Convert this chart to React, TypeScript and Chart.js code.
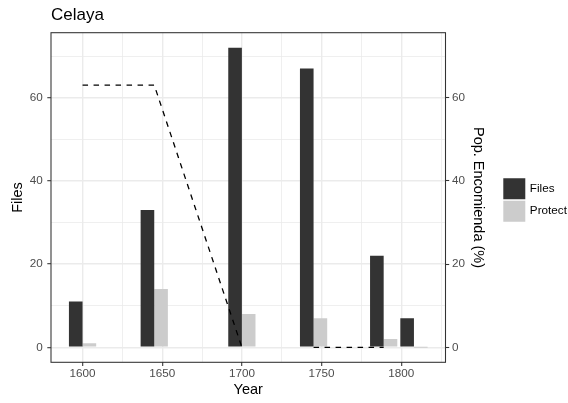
import React, { useEffect, useRef } from 'react';
import { Chart, registerables } from 'chart.js';

Chart.register(...registerables);

// ---- data ----
const barYears = [1600, 1645, 1700, 1745, 1789, 1808];
const filesValues = [11, 33, 72, 67, 22, 7];
const protectValues = [1, 14, 8, 7, 2, 0];
const popYears = [1600, 1645, 1700, 1722, 1745, 1789];
const popValues: (number | null)[] = [63, 63, 0, null, 0, 0];

const xMajorTicks = [1600, 1650, 1700, 1750, 1800];
const xMinorTicks = [1625, 1675, 1725, 1775, 1825];
const yMajorTicks = [0, 20, 40, 60];
const yMinorTicks = [10, 30, 50, 70];

// ---- scale ranges (ggplot-like 5% expansion) ----
const dataMax = Math.max(...filesValues, ...protectValues);
const yMin = -0.05 * dataMax;
const yMax = dataMax * 1.05;
const minGap = Math.min(...barYears.slice(1).map((v, i) => v - barYears[i]));
const halfDodge = (0.9 * minGap) / 2;
const xLo = barYears[0] - halfDodge;
const xHi = barYears[barYears.length - 1] + halfDodge;
const xMin = xLo - 0.05 * (xHi - xLo);
const xMax = xHi + 0.05 * (xHi - xLo);

const GRID = '#EBEBEB';
const DARK = '#333333';
const TICKTXT = '#4D4D4D';
const FONT = '"Liberation Sans", Arial, Helvetica, sans-serif';

const panelBorder = {
  id: 'panelBorder',
  afterDatasetsDraw(chart: any) {
    const { ctx, chartArea } = chart;
    const { left, top, right, bottom } = chartArea;
    ctx.save();
    ctx.strokeStyle = DARK;
    ctx.lineWidth = 1.07;
    ctx.strokeRect(left, top, right - left, bottom - top);
    ctx.restore();
  },
};

export default function App() {
  const ref = useRef<HTMLCanvasElement | null>(null);

  useEffect(() => {
    if (!ref.current) return;
    Chart.defaults.font.family = FONT;
    const chart = new Chart(ref.current, {
      type: 'bar',
      data: {
        datasets: [
          {
            type: 'bar',
            label: 'Files',
            data: barYears.map((x, i) => ({ x, y: filesValues[i] })),
            backgroundColor: DARK,
            borderWidth: 0,
            categoryPercentage: 0.9,
            barPercentage: 1,
            yAxisID: 'y',
            order: 0,
          },
          {
            type: 'bar',
            label: 'Protect',
            data: barYears.map((x, i) => ({ x, y: protectValues[i] })),
            backgroundColor: '#CCCCCC',
            borderWidth: 0,
            categoryPercentage: 0.9,
            barPercentage: 1,
            minBarLength: 1,
            yAxisID: 'y',
            order: 0,
          },
          {
            type: 'line',
            label: 'Pop. Encomienda (%)',
            data: popYears.map((x, i) => ({ x, y: popValues[i] })),
            borderColor: '#000000',
            borderWidth: 1.3,
            borderDash: [5.5, 5.5],
            pointRadius: 0,
            fill: false,
            spanGaps: false,
            tension: 0,
            yAxisID: 'y',
            order: -1,
          } as any,
        ],
      },
      options: {
        animation: false,
        responsive: false,
        devicePixelRatio: 1,
        events: [],
        layout: { padding: { top: 0, right: 0, bottom: 3, left: 0 } },
        scales: {
          x: {
            type: 'linear',
            min: xMin,
            max: xMax,
            offset: false,
            afterBuildTicks: (s: any) => {
              s.ticks = [...xMajorTicks, ...xMinorTicks].sort((a, b) => a - b).map((v) => ({ value: v }));
            },
            afterFit: (s: any) => {
              s.height = 37.7;
            },
            ticks: {
              autoSkip: false,
              maxRotation: 0,
              padding: 0.6,
              color: TICKTXT,
              font: { size: 11.7 },
              callback: (v: any) => (xMajorTicks.includes(v) ? String(v) : ''),
            },
            grid: {
              offset: false,
              color: GRID,
              lineWidth: (c: any) => (xMajorTicks.includes(c.tick?.value) ? 1.4 : 0.8),
              tickLength: 3.7,
              tickWidth: 1.07,
              tickColor: (c: any) => (xMajorTicks.includes(c.tick?.value) ? DARK : 'rgba(0,0,0,0)'),
            },
            border: { display: false },
            title: {
              display: true,
              text: 'Year',
              color: '#000000',
              font: { size: 14.5 },
              padding: { top: 0, bottom: 1.3 },
            },
          },
          y: {
            type: 'linear',
            position: 'left',
            min: yMin,
            max: yMax,
            afterBuildTicks: (s: any) => {
              s.ticks = [...yMajorTicks, ...yMinorTicks].sort((a, b) => a - b).map((v) => ({ value: v }));
            },
            afterFit: (s: any) => {
              s.width = 51;
            },
            ticks: {
              padding: 4.5,
              color: TICKTXT,
              font: { size: 11.7 },
              callback: (v: any) => (yMajorTicks.includes(v) ? String(v) : ''),
            },
            grid: {
              color: GRID,
              lineWidth: (c: any) => (yMajorTicks.includes(c.tick?.value) ? 1.4 : 0.8),
              tickLength: 3.7,
              tickWidth: 1.07,
              tickColor: (c: any) => (yMajorTicks.includes(c.tick?.value) ? DARK : 'rgba(0,0,0,0)'),
            },
            border: { display: false },
            title: {
              display: true,
              text: 'Files',
              color: '#000000',
              font: { size: 14.5 },
              padding: { top: 9.1, bottom: 0 },
            },
          },
          y2: {
            type: 'linear',
            position: 'right',
            min: yMin,
            max: yMax,
            afterBuildTicks: (s: any) => {
              s.ticks = yMajorTicks.map((v) => ({ value: v }));
            },
            afterFit: (s: any) => {
              s.width = 55.1;
            },
            ticks: {
              padding: 2.8,
              color: TICKTXT,
              font: { size: 11.7 },
              callback: (v: any) => String(v),
            },
            grid: {
              drawOnChartArea: false,
              tickLength: 3.7,
              tickWidth: 1.07,
              tickColor: DARK,
            },
            border: { display: false },
            title: {
              display: true,
              text: 'Pop. Encomienda (%)',
              color: '#000000',
              font: { size: 14.5 },
              padding: { top: 14.4, bottom: 0 },
            },
          },
        },
        plugins: {
          title: {
            display: true,
            text: 'Celaya',
            align: 'start',
            fullSize: false,
            color: '#000000',
            font: { size: 17, weight: 'normal' },
            padding: { top: 5.6, bottom: 6.7 },
          },
          tooltip: { enabled: false },
          legend: {
            position: 'right',
            align: 'center',
            maxWidth: 67.4,
            labels: {
              boxWidth: 19.4,
              boxHeight: 18.4,
              padding: 4,
              color: '#000000',
              font: { size: 11.7 },
              generateLabels: (ch: any) => {
                const base = (Chart.defaults as any).plugins.legend.labels.generateLabels(ch);
                return base
                  .filter((it: any) => it.datasetIndex !== 2)
                  .map((it: any) => ({
                    ...it,
                    lineWidth: 2.6,
                    strokeStyle: it.fillStyle,
                    lineDash: [],
                    lineJoin: 'miter',
                  }));
              },
            },
          },
        },
      } as any,
      plugins: [panelBorder],
    });
    return () => chart.destroy();
  }, []);

  return (
    <div style={{ position: 'absolute', left: 0, top: 0, width: 568, height: 403, background: '#ffffff' }}>
      <canvas ref={ref} width={568} height={403} style={{ display: 'block' }} />
    </div>
  );
}
